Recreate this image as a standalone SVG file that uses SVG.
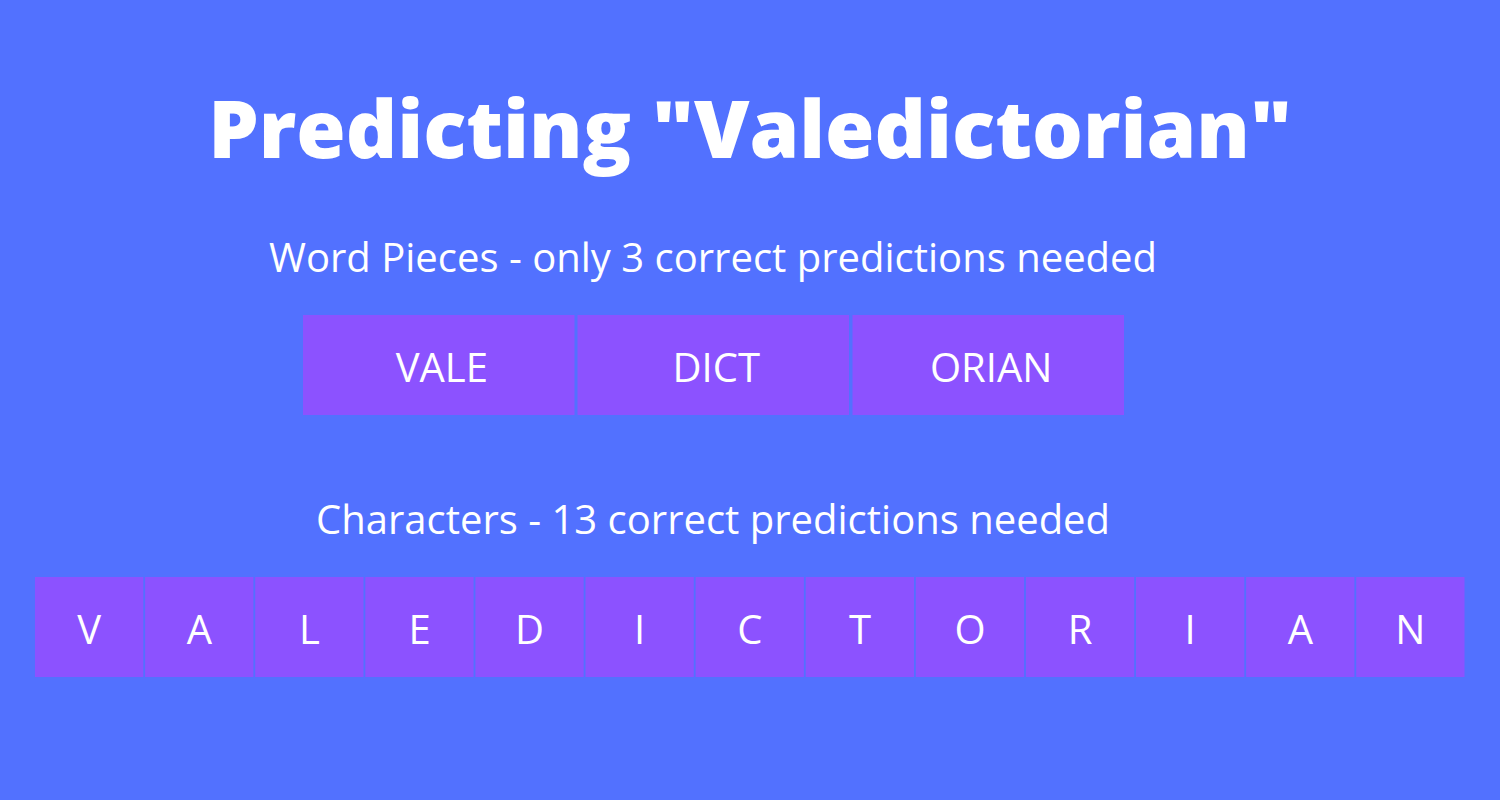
<svg xmlns="http://www.w3.org/2000/svg" width="1500" height="800" viewBox="0 0 1500 800">
<style>
.box{fill:#8C52FF}
.lbl{font-family:"Open Sans","Liberation Sans",sans-serif;font-size:40px;fill:#ffffff;text-anchor:middle}
.sub{font-family:"Open Sans","Liberation Sans",sans-serif;font-size:40px;fill:#ffffff;text-anchor:middle}
.title{font-family:"Open Sans","Liberation Sans",sans-serif;font-size:80px;font-weight:800;fill:#ffffff;text-anchor:middle}
</style>
<rect x="0" y="0" width="1500" height="800" fill="#5271FF"/>
<text class="title" x="750" y="158">Predicting "Valedictorian"</text>
<text class="sub" x="713" y="272">Word Pieces - only 3 correct predictions needed</text>
<text class="sub" x="713" y="534">Characters - 13 correct predictions needed</text>
<g id="wordpieces">
<g id="wp-vale"><rect class="box" x="303" y="315" width="271.5" height="100"/><text class="lbl" x="441.8" y="382">VALE</text></g>
<g id="wp-dict"><rect class="box" x="577.5" y="315" width="271.5" height="100"/><text class="lbl" x="716.2" y="382">DICT</text></g>
<g id="wp-orian"><rect class="box" x="852.5" y="315" width="271.5" height="100"/><text class="lbl" x="991.2" y="382">ORIAN</text></g>
</g>
<g id="characters">
<g id="c1"><rect class="box" x="35" y="577" width="108.3" height="100"/><text class="lbl" x="89.2" y="644">V</text></g>
<g id="c2"><rect class="box" x="145.1" y="577" width="108.3" height="100"/><text class="lbl" x="199.3" y="644">A</text></g>
<g id="c3"><rect class="box" x="255.2" y="577" width="108.3" height="100"/><text class="lbl" x="309.4" y="644">L</text></g>
<g id="c4"><rect class="box" x="365.3" y="577" width="108.3" height="100"/><text class="lbl" x="419.5" y="644">E</text></g>
<g id="c5"><rect class="box" x="475.4" y="577" width="108.3" height="100"/><text class="lbl" x="529.6" y="644">D</text></g>
<g id="c6"><rect class="box" x="585.5" y="577" width="108.3" height="100"/><text class="lbl" x="639.7" y="644">I</text></g>
<g id="c7"><rect class="box" x="695.6" y="577" width="108.3" height="100"/><text class="lbl" x="749.8" y="644">C</text></g>
<g id="c8"><rect class="box" x="805.7" y="577" width="108.3" height="100"/><text class="lbl" x="859.9" y="644">T</text></g>
<g id="c9"><rect class="box" x="915.8" y="577" width="108.3" height="100"/><text class="lbl" x="970" y="644">O</text></g>
<g id="c10"><rect class="box" x="1025.9" y="577" width="108.3" height="100"/><text class="lbl" x="1080.1" y="644">R</text></g>
<g id="c11"><rect class="box" x="1136" y="577" width="108.3" height="100"/><text class="lbl" x="1190.2" y="644">I</text></g>
<g id="c12"><rect class="box" x="1246.1" y="577" width="108.3" height="100"/><text class="lbl" x="1300.3" y="644">A</text></g>
<g id="c13"><rect class="box" x="1356.2" y="577" width="108.3" height="100"/><text class="lbl" x="1410.4" y="644">N</text></g>
</g>
<g id="connectors"/>
</svg>
